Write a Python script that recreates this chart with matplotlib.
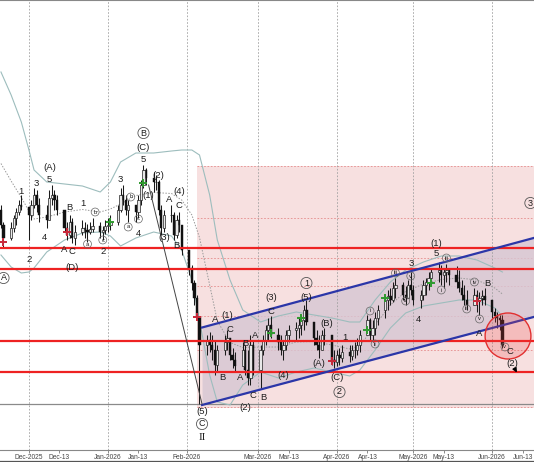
import numpy as np
import pandas as pd
import matplotlib
matplotlib.use('Agg')
import matplotlib.pyplot as plt
import matplotlib.dates as mdates
from matplotlib.patches import Ellipse
from matplotlib.lines import Line2D

plt.rcParams['font.family'] = ['Liberation Sans', 'DejaVu Sans']

# ---------------- data ----------------
dates = pd.bdate_range('2025-11-20', '2026-06-05')
first_open = 290

high = [295, 278, 278, 285, 292, 300, 305,
        292, 300, 312, 310, 302, 295, 310, 315, 310, 305, 290, 278, 285, 282, 275,
        280, 278, 276, 278, 282, 278, 274, 280,
        282, 285, 295, 312, 315, 305, 300, 295, 305, 320, 335, 332,
        328, 325, 320, 295, 290, 295, 288, 285, 288, 275,
        250, 235, 220, 205, 182, 165, 168, 165, 160, 155,
        165, 170, 162, 152, 148, 158, 155, 150, 165, 160,
        155, 165, 175, 182, 184, 172, 165, 160, 170, 175,
        178, 182, 185, 195, 200, 178, 170, 165, 170, 172, 160, 150,
        150, 152, 155, 155, 155, 158, 162, 170, 185, 182, 180, 188, 195,
        204, 210, 212, 218, 222, 218, 214, 220, 228,
        215, 210, 220, 222, 228, 232, 238, 235, 232, 236, 232,
        234, 230, 220, 215, 210, 212, 210, 208, 210, 212,
        200, 192, 188, 185, 185]
low = [272, 253, 260, 268, 275, 285, 290,
       260, 280, 292, 288, 278, 272, 285, 295, 290, 285, 268, 260, 262, 257, 255,
       265, 262, 258, 266, 268, 262, 260, 266,
       268, 270, 275, 288, 295, 285, 278, 278, 282, 295, 312, 315,
       308, 310, 285, 265, 268, 278, 260, 262, 268, 245,
       225, 210, 195, 180, 96, 145, 148, 140, 125, 128,
       145, 150, 140, 132, 128, 138, 125, 115, 115, 125,
       112, 145, 155, 160, 162, 150, 145, 140, 150, 158,
       160, 162, 165, 170, 175, 155, 150, 142, 150, 155, 135, 132,
       134, 135, 138, 138, 140, 142, 145, 148, 165, 160, 158, 165, 175,
       182, 190, 195, 198, 202, 200, 195, 202, 205,
       195, 192, 200, 205, 210, 215, 218, 215, 212, 218, 215,
       212, 208, 200, 195, 190, 195, 188, 185, 195, 195,
       182, 178, 172, 170, 152]
close = [275, 262, 272, 282, 288, 295, 293,
         285, 295, 305, 295, 285, 280, 302, 305, 300, 290, 272, 265, 278, 262, 268,
         272, 270, 268, 271, 274, 268, 270, 274,
         275, 278, 290, 305, 300, 290, 295, 288, 300, 315, 330, 322,
         318, 318, 290, 272, 285, 285, 265, 280, 275, 250,
         232, 217, 202, 183, 155, 160, 155, 150, 135, 150,
         158, 162, 145, 140, 134, 150, 130, 122, 155, 130,
         150, 160, 170, 175, 165, 158, 150, 155, 165, 170,
         172, 175, 180, 190, 178, 162, 155, 150, 165, 165, 140, 138,
         145, 142, 148, 144, 150, 150, 155, 165, 180, 165, 172, 182, 190,
         200, 204, 200, 212, 215, 205, 202, 215, 210,
         200, 205, 215, 218, 222, 228, 230, 225, 228, 230, 225,
         218, 212, 205, 200, 195, 205, 200, 202, 204, 200,
         188, 184, 182, 180, 155]

# Bollinger-type envelope
band_dates = ['2025-11-20', '2025-11-24', '2025-11-28', '2025-12-01', '2025-12-03', '2025-12-08',
              '2025-12-15', '2025-12-22', '2025-12-29', '2026-01-02', '2026-01-06', '2026-01-12',
              '2026-01-19', '2026-01-26', '2026-01-30', '2026-02-03', '2026-02-06', '2026-02-10',
              '2026-02-13', '2026-02-18', '2026-02-23', '2026-03-02', '2026-03-09', '2026-03-16',
              '2026-03-23', '2026-03-30', '2026-04-06', '2026-04-10', '2026-04-16', '2026-04-22',
              '2026-04-28', '2026-05-05', '2026-05-12', '2026-05-19', '2026-05-26', '2026-06-02',
              '2026-06-05']
band_upper = [428, 405, 378, 350, 330, 318, 316, 314, 308, 318, 338, 347, 347, 349, 350, 350,
              345, 305, 260, 220, 190, 178, 184, 188, 185, 182, 178, 178, 200, 218, 230, 238,
              244, 244, 240, 232, 228]
band_lower = [245, 233, 227, 228, 232, 248, 260, 267, 268, 264, 254, 262, 268, 264, 250, 220,
              180, 125, 98, 95, 115, 128, 122, 128, 132, 128, 124, 130, 150, 172, 187, 194,
              197, 200, 200, 192, 184]

support_resistance = [252, 231, 159, 128]
zone_levels = [334.3, 282.3, 241.7, 214, 184, 150, 93]
zone_start = '2026-02-05'
zone_bottom, zone_top = 92, 334.3
base_line = 96

channel_dates = ['2026-02-07', '2026-06-18']
channel_upper = [172.5, 262.5]
channel_lower = [95, 183.5]

trend_dates = ['2026-01-17', '2026-02-07']
trend_vals = [315, 96]

green_marks = [('2026-01-02', 278), ('2026-01-15', 317), ('2026-03-06', 167), ('2026-03-18', 182),
               ('2026-04-13', 170), ('2026-04-20', 202), ('2026-05-08', 217)]
red_marks = [('2025-11-21', 258), ('2025-12-16', 268), ('2026-02-05', 183), ('2026-03-30', 139),
             ('2026-05-26', 199)]

# (date, price, text, kind) kind: n=plain, C=big circle, c=small circle, R=roman
labels = [
    ('2025-11-21', 222, 'A', 'C'), ('2025-12-01', 240, '2', 'n'), ('2025-11-28', 308, '1', 'n'),
    ('2025-12-04', 317, '3', 'n'), ('2025-12-07', 263, '4', 'n'), ('2025-12-09', 320, '5', 'n'),
    ('2025-12-09', 333, '(A)', 'n'), ('2025-12-17', 293, 'B', 'n'), ('2025-12-15', 251, 'A', 'n'),
    ('2025-12-18', 248, 'C', 'n'), ('2025-12-18', 232, '(D)', 'n'), ('2025-12-22', 297, '1', 'n'),
    ('2025-12-27', 288, 'b', 'c'), ('2025-12-24', 256, 'a', 'c'), ('2025-12-30', 260, 'c', 'c'),
    ('2025-12-30', 249, '2', 'n'), ('2026-01-06', 320, '3', 'n'), ('2026-01-10', 303, 'b', 'c'),
    ('2026-01-09', 273, 'a', 'c'), ('2026-01-13', 281, 'c', 'c'), ('2026-01-13', 267, '4', 'n'),
    ('2026-01-15', 341, '5', 'n'), ('2026-01-15', 353, '(C)', 'n'), ('2026-01-15', 367, 'B', 'C'),
    ('2026-01-21', 325, '(2)', 'n'), ('2026-01-17', 305, '(1)', 'n'), ('2026-01-23', 262, '(3)', 'n'),
    ('2026-01-25', 300, 'A', 'n'), ('2026-01-29', 308, '(4)', 'n'), ('2026-01-29', 295, 'C', 'n'),
    ('2026-01-28', 254, 'B', 'n'), ('2026-02-07', 88, '(5)', 'n'), ('2026-02-07', 76, 'C', 'C'),
    ('2026-02-07', 63, 'II', 'R'), ('2026-02-17', 185, '(1)', 'n'), ('2026-02-12', 180, 'A', 'n'),
    ('2026-02-18', 170, 'C', 'n'), ('2026-02-15', 122, 'B', 'n'), ('2026-02-24', 157, 'B', 'n'),
    ('2026-02-22', 123, 'A', 'n'), ('2026-02-28', 165, 'A', 'n'), ('2026-02-27', 104, 'C', 'n'),
    ('2026-03-03', 102, 'B', 'n'), ('2026-02-24', 92, '(2)', 'n'), ('2026-03-06', 202, '(3)', 'n'),
    ('2026-03-06', 189, 'C', 'n'), ('2026-03-11', 124, '(4)', 'n'), ('2026-03-20', 217, '1', 'C'),
    ('2026-03-20', 202, '(5)', 'n'), ('2026-03-28', 177, '(B)', 'n'), ('2026-03-25', 136, '(A)', 'n'),
    ('2026-04-01', 123, '(C)', 'n'), ('2026-04-02', 108, '2', 'C'), ('2026-04-04', 162, '1', 'n'),
    ('2026-04-14', 189, 'i', 'c'), ('2026-04-16', 156, 'ii', 'c'), ('2026-04-24', 227, 'iii', 'c'),
    ('2026-04-28', 199, 'iv', 'c'), ('2026-04-30', 236, '3', 'n'), ('2026-04-30', 224, 'v', 'c'),
    ('2026-05-03', 181, '4', 'n'), ('2026-05-10', 246, '5', 'n'), ('2026-05-10', 257, '(1)', 'n'),
    ('2026-05-14', 242, 'iii', 'c'), ('2026-05-12', 210, 'i', 'c'), ('2026-05-22', 191, 'iii', 'c'),
    ('2026-05-25', 218, 'iv', 'c'), ('2026-05-30', 216, 'B', 'n'), ('2026-05-27', 181, 'v', 'c'),
    ('2026-05-27', 167, 'A', 'n'), ('2026-06-06', 153, 'v', 'c'), ('2026-06-08', 149, 'C', 'n'),
    ('2026-06-09', 136, '(2)', 'n'), ('2026-06-16', 297, '3', 'C'),
]

circle_center = ('2026-06-07 05:00', 164)
circle_size = (18.0, 46)
arrow_from = ('2026-06-09 06:00', 134)
arrow_to = ('2026-06-11 06:00', 125)

month_ticks = ['2025-12-01', '2026-01-01', '2026-02-01', '2026-03-01', '2026-04-01', '2026-05-01', '2026-06-01']
mid_ticks = ['2025-12-13', '2026-01-13', '2026-03-13', '2026-04-13', '2026-05-13', '2026-06-13']

# ---------------- figure ----------------
fig = plt.figure(figsize=(5.34, 4.62), dpi=100)
ax = fig.add_axes([0, 12 / 462, 1, 450 / 462])
D = lambda s: mdates.date2num(pd.Timestamp(s))
x0 = D('2025-11-19 15:00')
x1 = D('2026-06-17 10:00')
ax.set_xlim(x0, x1)
ax.set_ylim(50, 500)

xd = mdates.date2num(dates)

# zone
zs = D(zone_start)
ax.fill_between([zs, x1 + 5], zone_bottom, zone_top, color='#f7e0e0', zorder=0, lw=0)
for lv in zone_levels:
    ax.plot([zs, x1 + 5], [lv, lv], color='#e58c8c', lw=0.6, ls=(0, (2, 2)), zorder=1)

# channel
cd = [D(d) for d in channel_dates]
ax.fill_between(cd, channel_lower, channel_upper, color='#d6c6d3', alpha=0.8, zorder=1, lw=0)

# vertical grid
for t in month_ticks:
    ax.axvline(D(t), color='#a0a0a0', lw=0.6, ls=(0, (2, 2)), zorder=1)

# base gray line
ax.axhline(base_line, color='#8a8a8a', lw=0.9, zorder=2)

# bands
bd = [D(d) for d in band_dates]
bu = np.array(band_upper, float)
bl = np.array(band_lower, float)
ax.plot(bd, bu, color='#9dbdbd', lw=0.8, zorder=2)
ax.plot(bd, bl, color='#9dbdbd', lw=0.8, zorder=2)
ax.plot(bd, (bu + bl) / 2, color='#9a9a9a', lw=0.7, ls=(0, (1.5, 1.5)), zorder=2)

# candles
o = np.array([first_open] + close[:-1], float)
c = np.array(close, float)
h = np.array(high, float)
l = np.array(low, float)
top = np.maximum(h, np.maximum(o, c))
bot = np.minimum(l, np.minimum(o, c))
ax.vlines(xd, bot, top, color='#1a1a1a', lw=0.75, zorder=3)
up = c >= o
ax.bar(xd[~up], np.abs(c - o)[~up] + 0.8, bottom=np.minimum(o, c)[~up] - 0.4, width=0.9,
       color='#111111', edgecolor='#111111', lw=0.3, zorder=4)
ax.bar(xd[up], np.abs(c - o)[up] + 0.8, bottom=np.minimum(o, c)[up] - 0.4, width=0.9,
       color='#e8e8e8', edgecolor='#222222', lw=0.5, zorder=4)

# support / resistance
for lv in support_resistance:
    ax.axhline(lv, color='#ee2222', lw=1.6, zorder=5)

# channel lines
ax.plot(cd, channel_upper, color='#2b36a8', lw=1.6, zorder=5)
ax.plot(cd, channel_lower, color='#2b36a8', lw=1.6, zorder=5)

# trend line
ax.plot([D(d) for d in trend_dates], trend_vals, color='#444444', lw=0.7, zorder=5)

# crosses
for d, v in green_marks:
    ax.plot(D(d), v, marker='+', ms=5.5, mew=1.4, color='#2f9a2f', zorder=6)
for d, v in red_marks:
    ax.plot(D(d), v, marker='+', ms=5.5, mew=1.4, color='#c8283a', zorder=6)

# circle
ell = Ellipse((D(circle_center[0]), circle_center[1]), circle_size[0], circle_size[1],
              facecolor=(0.93, 0.25, 0.25, 0.22), edgecolor='#e23030', lw=1.0, zorder=6)
ax.add_patch(ell)
ax.annotate('', xy=(D(arrow_to[0]), arrow_to[1]), xytext=(D(arrow_from[0]), arrow_from[1]),
            arrowprops=dict(arrowstyle='-|>', color='black', lw=1.0, mutation_scale=6), zorder=7)

# wave labels
for d, v, s, k in labels:
    if k == 'n':
        ax.text(D(d), v, s, ha='center', va='center', fontsize=6.8, color='#1e1e1e', zorder=8)
    elif k == 'C':
        ax.text(D(d), v, s, ha='center', va='center', fontsize=6.5, color='#1e1e1e', zorder=8,
                bbox=dict(boxstyle='circle,pad=0.12', fc='none', ec='#555555', lw=0.6))
    elif k == 'c':
        ax.text(D(d), v, s, ha='center', va='center', fontsize=4.2, color='#1e1e1e', zorder=8,
                bbox=dict(boxstyle='circle,pad=0.25', fc='none', ec='#666666', lw=0.5))
    else:
        ax.text(D(d), v, s, ha='center', va='center', fontsize=8, color='#1e1e1e', zorder=8,
                family=['Liberation Serif', 'DejaVu Serif'])

# axes cosmetics
for sname in ['left', 'right']:
    ax.spines[sname].set_visible(False)
for sname in ['top', 'bottom']:
    ax.spines[sname].set_color('#888888')
    ax.spines[sname].set_linewidth(0.8)
ax.set_yticks([])
tick_pos = [D(t) for t in month_ticks] + [D(t) for t in mid_ticks]
tick_lab = [pd.Timestamp(t).strftime('%b-%Y') for t in month_ticks] + \
           [pd.Timestamp(t).strftime('%b-13') for t in mid_ticks]
ax.set_xticks(tick_pos)
ax.set_xticklabels(tick_lab)
ax.tick_params(axis='x', length=2.5, width=0.6, color='#777777', labelsize=4.8,
               labelcolor='#444444', pad=0.5)

fig.add_artist(Line2D([0, 1], [0.6 / 462, 0.6 / 462], color='#555555', lw=0.9))

fig.savefig('out.png', dpi=100)
